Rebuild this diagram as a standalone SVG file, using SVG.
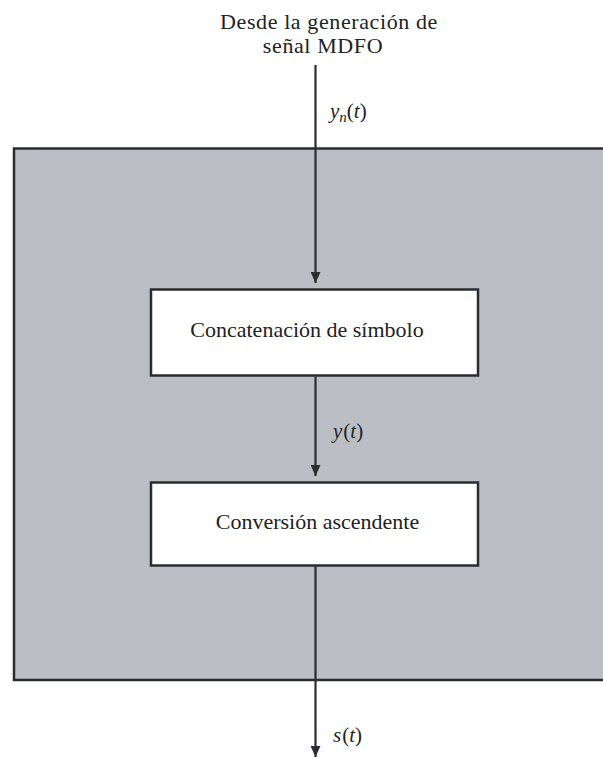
<svg xmlns="http://www.w3.org/2000/svg" width="603" height="758" viewBox="0 0 603 758">
<style>
.t{font-family:"Liberation Serif","Times New Roman",serif;fill:#222}
.big{font-size:22px;letter-spacing:0.6px}
.box{font-size:22px}
.lbl{font-size:21px;font-style:italic}
.bx{fill:#fff;stroke:#2b2c30;stroke-width:2.5}
.ln{stroke:#2b2c30;stroke-width:2.2;fill:none}
</style>
<defs>
<marker id="ah" markerWidth="11" markerHeight="10" refX="11" refY="5" orient="auto" markerUnits="userSpaceOnUse" viewBox="0 0 11 10">
<path d="M0,0 L11,5 L0,10 Z" fill="#2b2c30"/>
</marker>
</defs>
<g id="container">
<rect x="14" y="148.5" width="600" height="531.5" fill="#bcbec6" stroke="#2b2c30" stroke-width="2.5"/>
</g>
<g id="title">
<text class="t big" x="329" y="28.5" text-anchor="middle">Desde la generación de</text>
<text class="t big" x="323" y="53" text-anchor="middle">señal MDFO</text>
</g>
<g id="node-concat">
<rect class="bx" x="151" y="289.5" width="327" height="86"/>
<text class="t box" x="307" y="337" text-anchor="middle">Concatenación de símbolo</text>
</g>
<g id="node-upconv">
<rect class="bx" x="151" y="482.5" width="327" height="83"/>
<text class="t box" x="317.5" y="528.5" text-anchor="middle">Conversión ascendente</text>
</g>
<g id="connectors">
<line class="ln" x1="315.5" y1="65" x2="315.5" y2="283" marker-end="url(#ah)"/>
<line class="ln" x1="315.5" y1="376.5" x2="315.5" y2="476" marker-end="url(#ah)"/>
<line class="ln" x1="315.5" y1="566.5" x2="315.5" y2="757" marker-end="url(#ah)"/>
</g>
<g id="labels">
<text class="t lbl" x="330" y="118">y<tspan font-size="15" dy="4">n</tspan><tspan font-style="normal" dy="-4">(</tspan>t<tspan font-style="normal">)</tspan></text>
<text class="t lbl" x="333" y="438">y<tspan font-style="normal" dx="1">(</tspan>t<tspan font-style="normal">)</tspan></text>
<text class="t lbl" x="333" y="741.5">s<tspan font-style="normal" dx="1">(</tspan>t<tspan font-style="normal">)</tspan></text>
</g>
</svg>
